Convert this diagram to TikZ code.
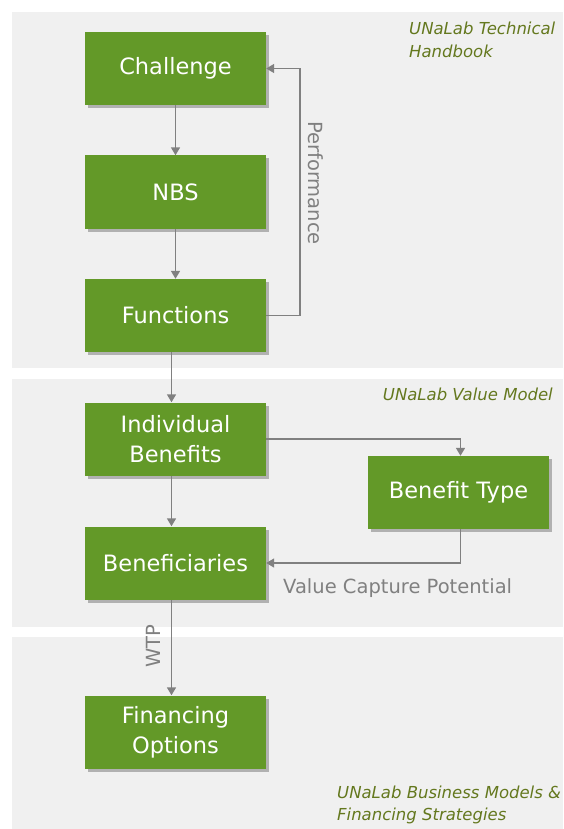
\documentclass[tikz,border=0pt]{standalone}
\usepackage{fontspec}
\setmainfont{DejaVu Sans}
\usetikzlibrary{arrows.meta,shadows}
\definecolor{boxgreen}{RGB}{99,153,40}
\definecolor{panelgray}{RGB}{240,240,240}
\definecolor{linegray}{RGB}{128,128,128}
\definecolor{olive}{RGB}{100,120,30}
\tikzset{
  stepbox/.style={rectangle, fill=boxgreen, text=white, minimum width=181pt, minimum height=73pt,
    align=center, font=\fontsize{22.5}{30}\selectfont, inner sep=2pt,
    drop shadow={shadow xshift=3pt, shadow yshift=-3pt, opacity=0.45, fill=black!60}},
  arr/.style={draw=linegray, line width=1.5pt, -{Triangle[length=8pt,width=9pt]}},
  lbl/.style={text=linegray, font=\fontsize{19.5}{22}\selectfont, inner sep=0pt},
  src/.style={text=olive, font=\fontsize{16.5}{23}\selectfont\itshape, inner sep=0pt}
}
\begin{document}
\begin{tikzpicture}[x=1pt,y=-1pt]
\fill[white] (0,0) rectangle (563,829);
\useasboundingbox (0,0) rectangle (563,829);
\fill[panelgray] (12,12) rectangle (563,368);
\fill[panelgray] (12,379) rectangle (563,627);
\fill[panelgray] (12,637) rectangle (563,829);

\node[stepbox] (ch) at (175.5,68.5) {Challenge};
\node[stepbox] (nbs) at (175.5,192) {NBS};
\node[stepbox] (fn) at (175.5,315.5) {Functions};
\node[stepbox] (ib) at (175.5,439) {Individual\\Benefits};
\node[stepbox] (ben) at (175.5,563) {Beneficiaries};
\node[stepbox] (bt) at (458.5,492.5) {Benefit Type};
\node[stepbox] (fo) at (175.5,732) {Financing\\Options};

\draw[arr] (ch) -- (nbs);
\draw[arr] (nbs) -- (fn);
\draw[arr] ([xshift=-4pt]fn.south) -- ([xshift=-4pt]ib.north);
\draw[arr] (fn.east) -- ++(34,0) |- (ch.east);
\node[lbl, rotate=-90] (perf) at (316,183) {Performance};
\draw[arr] (ib.east) -| ([xshift=2pt]bt.north);
\draw[arr] ([xshift=2pt]bt.south) |- (ben.east);
\node[lbl, anchor=base west] (vcp) at (283,593) {Value Capture Potential};
\draw[arr] ([xshift=-4pt]ib.south) -- ([xshift=-4pt]ben.north);
\draw[arr] ([xshift=-4pt]ben.south) -- ([xshift=-4pt]fo.north);
\node[lbl, rotate=90] (wtp) at (153,646) {WTP};

\node[src, anchor=base west] (s1a) at (409,35) {UNaLab Technical};
\node[src, anchor=base west] (s1b) at (409,58) {Handbook};
\node[src, anchor=base east] (s2) at (553,400) {UNaLab Value Model};
\node[src, anchor=base west] (s3a) at (337,798) {UNaLab Business Models \&};
\node[src, anchor=base west] (s3b) at (337,820) {Financing Strategies};
\end{tikzpicture}
\end{document}
